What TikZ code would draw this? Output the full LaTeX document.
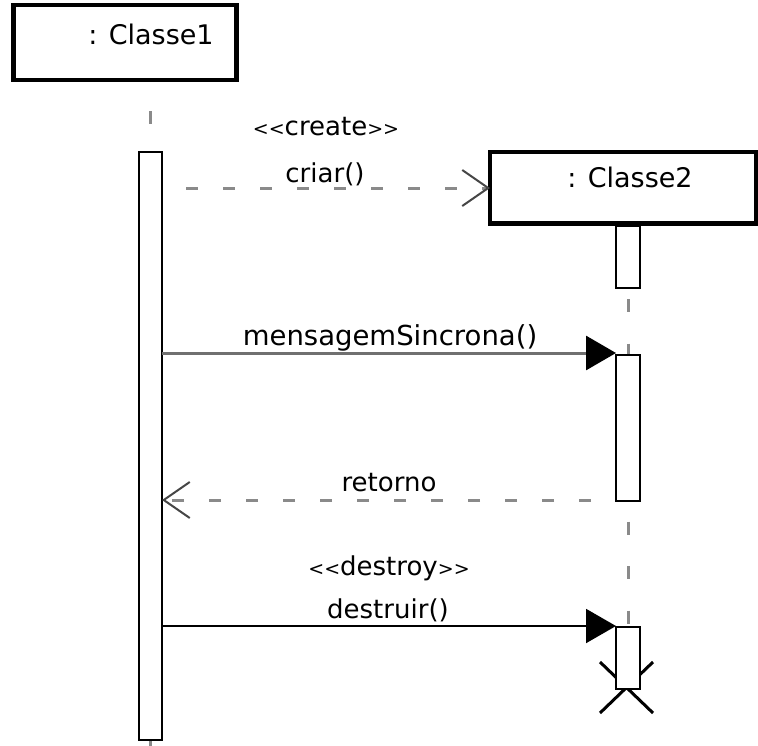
\documentclass[tikz,border=0pt]{standalone}
\usepackage{fontspec}
\setmainfont{DejaVu Sans}
\usetikzlibrary{arrows.meta,backgrounds}
\definecolor{dashgray}{RGB}{138,138,138}
\definecolor{syncgray}{RGB}{112,112,112}
\definecolor{tipgray}{RGB}{70,70,70}
% stereotype brackets: two separate small angle signs, no guillemet ligature
\newcommand\lbrk{{\fontsize{19}{19}\selectfont<{}<}}
\newcommand\rbrk{{\fontsize{19}{19}\selectfont>{}>}}
\begin{document}
\begin{tikzpicture}[x=1pt,y=-1pt,
  objbox/.style={draw, line width=4.5pt, inner sep=0pt, outer sep=0pt},
  actbar/.style={draw, fill=white, line width=2pt, inner sep=0pt, outer sep=0pt, minimum width=24pt},
  lifeline/.style={draw=dashgray, line width=3pt, dash pattern=on 13pt off 31.5pt, dash phase=13.5pt},
  dashmsg/.style={draw=dashgray, line width=3pt, dash pattern=on 12pt off 25pt},
  syncmsg/.style={draw=syncgray, line width=3pt},
  destmsg/.style={draw=black, line width=2pt},
  openhead/.style={-{Straight Barb[length=26pt, width=36pt, line width=2pt, color=tipgray]}},
  fullhead/.style={-{Triangle[length=30pt, width=34pt, color=black]}},
  msgtext/.style={anchor=base, inner sep=0pt, font=\fontsize{26}{26}\selectfont},
  objtext/.style={anchor=base, inner sep=0pt, font=\fontsize{27}{27}\selectfont}]
\useasboundingbox (0,0) rectangle (758,745);

% object boxes
\node[objbox, minimum width=223pt, minimum height=75pt] (c1) at (125,42.5) {};
\node[objbox, minimum width=266pt, minimum height=71.5pt] (c2) at (623,187.75) {};
\node[objtext] (t1) at (151,44) {: Classe1};
\node[objtext] (t2) at (630,187) {: Classe2};

% activation bars
\node[actbar, minimum width=23pt, minimum height=588pt] (a1) at (150.5,446) {};
\node[actbar, minimum height=62pt] (a2a) at (628,256.5) {};
\node[actbar, minimum height=146pt] (a2b) at (628,428) {};
\node[actbar, minimum height=62pt] (a2c) at (628,658) {};

% message heights
\coordinate (ycreate) at (0,188);
\coordinate (ysync) at (0,353);
\coordinate (yret) at (0,500);
\coordinate (ydes) at (0,626);

% destruction mark corners
\coordinate (xul) at (600,662);
\coordinate (xur) at (653,662);
\coordinate (xll) at (600,713);
\coordinate (xlr) at (653,713);

\begin{scope}[on background layer]
  \draw[lifeline] (a1.north |- c1.south) -- (a1.north |- 0,748);
  \draw[lifeline] (a2a.north |- c2.south) -- (a2c.south);
  \draw[line width=3pt] (xul) -- (xlr);
  \draw[line width=3pt] (xur) -- (xll);
\end{scope}

% messages
\draw[dashmsg, dash phase=13pt, openhead] (a1.east |- ycreate) -- (c2.west |- ycreate);
\draw[syncmsg, fullhead] (a1.east |- ysync) -- (a2b.west |- ysync);
\draw[dashmsg, dash phase=12pt, openhead] (a2b.west |- yret) -- (a1.east |- yret);
\draw[destmsg, fullhead] (a1.east |- ydes) -- (a2c.west |- ydes);

% message labels
\node[msgtext] (l1) at (326,135) {\lbrk create\rbrk};
\node[msgtext] (l2) at (325,182) {criar()};
\node[msgtext, font=\fontsize{27.5}{27.5}\selectfont] (l3) at (390,345) {mensagemSincrona()};
\node[msgtext] (l4) at (389,491) {retorno};
\node[msgtext] (l5) at (389,575) {\lbrk destroy\rbrk};
\node[msgtext] (l6) at (388,618) {destruir()};
\end{tikzpicture}
\end{document}
